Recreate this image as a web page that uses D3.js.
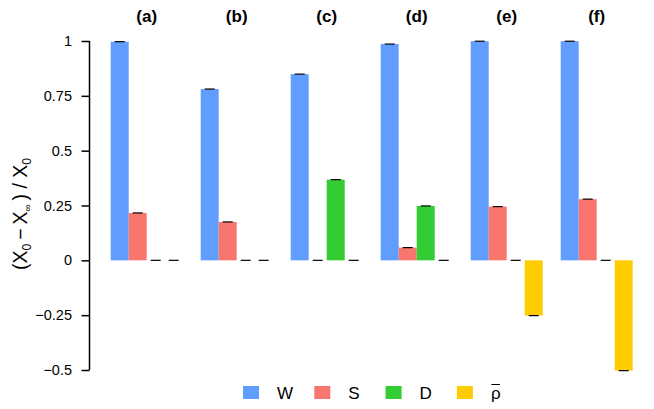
<!DOCTYPE html>
<html>
<head>
<meta charset="utf-8">
<script src="https://cdn.jsdelivr.net/npm/d3@7"></script>
<style>
  body { margin: 0; background: #fff; }
  text { font-family: "Liberation Sans", Arial, sans-serif; }
</style>
</head>
<body>
<script>
// Data
const panels = ["(a)", "(b)", "(c)", "(d)", "(e)", "(f)"];
const series = ["W", "S", "D", "rho"];
const valW   = [0.997, 0.781, 0.849, 0.986, 0.999, 0.999];
const valS   = [0.216, 0.175, 0, 0.058, 0.245, 0.279];
const valD   = [0, 0, 0.368, 0.248, 0, 0];
const valRho = [0, 0, 0, 0, -0.252, -0.503];
const yTicks = [1, 0.75, 0.5, 0.25, 0, -0.25, -0.5];
const yTickLabels = ["1", "0.75", "0.5", "0.25", "0", "\u22120.25", "\u22120.5"];

const colors = { W: "#619CFF", S: "#F8766D", D: "#33CC33", rho: "#FFCC00" };
const values = { W: valW, S: valS, D: valD, rho: valRho };

const w = 654, h = 409;

const svg = d3.select("body").append("svg")
  .attr("width", w)
  .attr("height", h);

// Scales
const y = d3.scaleLinear().domain([-0.5, 1]).range([370, 41]);

const x0 = d3.scaleBand().domain(panels).range([110.7, 650.7]).paddingInner(0).paddingOuter(0);
const x1 = d3.scaleBand().domain(series).range([0, x0.bandwidth() * 0.8]);

// Y axis
const yAxis = d3.axisLeft(y)
  .tickValues(yTicks)
  .tickSize(8)
  .tickFormat((d, i) => yTickLabels[i]);

const ax = svg.append("g")
  .attr("transform", "translate(89.5,0)")
  .call(yAxis);
ax.select(".domain").attr("d", "M0," + y(1) + "V" + y(-0.5)).attr("stroke-width", 1.5);
ax.selectAll(".tick line").attr("stroke-width", 1.5);
ax.selectAll(".tick text").attr("font-size", 14.5).attr("fill", "#000").attr("x", -17.5);

// Y title
const yt = svg.append("text")
  .attr("transform", "translate(27,214) rotate(-90)")
  .attr("text-anchor", "middle")
  .attr("font-size", 19.5)
  .attr("fill", "#000");
yt.append("tspan").text("(X");
yt.append("tspan").attr("font-size", 12).attr("dy", 4).text("0");
yt.append("tspan").attr("dy", -4).text("\u2009\u2212\u2009X");
yt.append("tspan").attr("font-size", 10).attr("dy", 4).text("\u221e");
yt.append("tspan").attr("dy", -4).text("\u2009) / X");
yt.append("tspan").attr("font-size", 12).attr("dy", 4).text("0");

// Groups
const grp = svg.selectAll("g.panel")
  .data(panels)
  .enter()
  .append("g")
  .attr("class", "panel")
  .attr("transform", d => "translate(" + x0(d) + ",0)");

grp.append("text")
  .attr("x", x1.range()[1] / 2)
  .attr("y", 22)
  .attr("text-anchor", "middle")
  .attr("font-size", 17)
  .attr("font-weight", "bold")
  .text(d => d);

grp.each(function(p, pi) {
  const g = d3.select(this);
  series.forEach(s => {
    const v = values[s][pi];
    if (v !== 0) {
      g.append("rect")
        .attr("x", x1(s))
        .attr("y", y(Math.max(0, v)))
        .attr("width", x1.bandwidth())
        .attr("height", Math.abs(y(v) - y(0)))
        .attr("fill", colors[s]);
    }
    // error cap
    g.append("line")
      .attr("x1", x1(s) + x1.bandwidth() / 2 - 5)
      .attr("x2", x1(s) + x1.bandwidth() / 2 + 5)
      .attr("y1", y(v))
      .attr("y2", y(v))
      .attr("stroke", "#000")
      .attr("stroke-width", 1.2);
  });
});

// Legend
const legend = svg.append("g").attr("transform", "translate(243,386)");
const item = legend.selectAll("g")
  .data(series)
  .enter()
  .append("g")
  .attr("transform", (d, i) => "translate(" + i * 71.3 + ",0)");

item.append("rect")
  .attr("width", 16)
  .attr("height", 13)
  .attr("fill", d => colors[d]);

item.append("text")
  .attr("x", 34)
  .attr("y", 12.5)
  .attr("font-size", 17)
  .attr("fill", "#000")
  .text(d => d === "rho" ? "\u03c1" : d);

// overline for rho
item.filter(d => d === "rho").append("line")
  .attr("x1", 34.5).attr("x2", 43)
  .attr("y1", -1.5).attr("y2", -1.5)
  .attr("stroke", "#000").attr("stroke-width", 1);
</script>
</body>
</html>
